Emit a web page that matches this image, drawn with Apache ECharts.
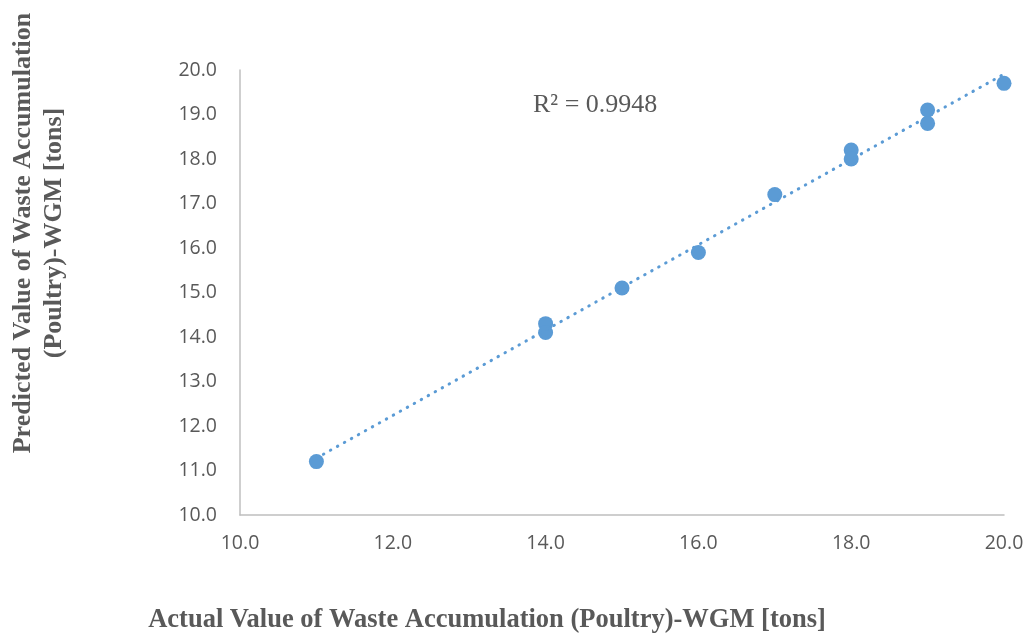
<!DOCTYPE html>
<html>
<head>
<meta charset="utf-8">
<script src="https://cdn.jsdelivr.net/npm/echarts@6/dist/echarts.min.js"></script>
<style>html,body{margin:0;padding:0;background:#fff}#c{width:1030px;height:635px}</style>
</head>
<body>
<div id="c"></div>
<script>
const actual = [11, 14, 14, 15, 16, 17, 18, 18, 19, 19, 20];
const predicted = [11.2, 14.3, 14.1, 15.1, 15.9, 17.2, 18.2, 18.0, 19.1, 18.8, 19.7];
const r2Label = 'R² = 0.9948';
const xTitle = 'Actual Value of Waste Accumulation (Poultry)-WGM [tons]';
const yTitleLines = ['Predicted Value of Waste Accumulation', '(Poultry)-WGM [tons]'];

const n = actual.length;
const mx = actual.reduce((a, b) => a + b, 0) / n;
const my = predicted.reduce((a, b) => a + b, 0) / n;
let sxy = 0, sxx = 0;
for (let i = 0; i < n; i++) { sxy += (actual[i] - mx) * (predicted[i] - my); sxx += (actual[i] - mx) ** 2; }
const slope = sxy / sxx, intercept = my - slope * mx;
const xMin = Math.min(...actual), xMax = Math.max(...actual);
const trend = [[xMin, intercept + slope * xMin], [xMax, intercept + slope * xMax]];

const blue = '#5B9BD5';
const chart = echarts.init(document.getElementById('c'));
chart.setOption({
  animation: false,
  grid: { left: 240, right: 26, top: 70, bottom: 120, containLabel: false },
  xAxis: {
    type: 'value', min: 10, max: 20, interval: 2,
    axisLine: { show: true, lineStyle: { color: '#BFBFBF', width: 1.5 } },
    axisTick: { show: false }, splitLine: { show: false },
    axisLabel: { formatter: v => v.toFixed(1), color: '#595959', fontFamily: 'Open Sans', fontSize: 19.5, margin: 18 }
  },
  yAxis: {
    type: 'value', min: 10, max: 20, interval: 1,
    axisLine: { show: true, lineStyle: { color: '#BFBFBF', width: 1.5 } },
    axisTick: { show: false }, splitLine: { show: false },
    axisLabel: { formatter: v => v.toFixed(1), color: '#595959', fontFamily: 'Open Sans', fontSize: 19.5, margin: 23 }
  },
  series: [
    {
      type: 'scatter', data: actual.map((x, i) => [x, predicted[i]]),
      symbolSize: 15, itemStyle: { color: blue, opacity: 1 }, z: 2
    },
    {
      type: 'line', data: trend, showSymbol: false, symbol: 'none',
      lineStyle: { color: blue, width: 3, type: [0.5, 7.5], cap: 'round' }, z: 3
    }
  ],
  graphic: [
    { type: 'text', x: 533, y: 105, style: { text: r2Label, font: '26px "Liberation Serif"', fill: '#595959', verticalAlign: 'middle' } },
    { type: 'text', x: 487, y: 620, style: { text: xTitle, font: 'bold 26.5px "Liberation Serif"', fill: '#595959', align: 'center', verticalAlign: 'middle' } },
    { type: 'text', x: 39, y: 233, rotation: Math.PI / 2, style: { text: yTitleLines.join('\n'), font: 'bold 26px "Liberation Serif"', lineHeight: 31, fill: '#595959', align: 'center', verticalAlign: 'middle' } }
  ]
});
</script>
</body>
</html>
